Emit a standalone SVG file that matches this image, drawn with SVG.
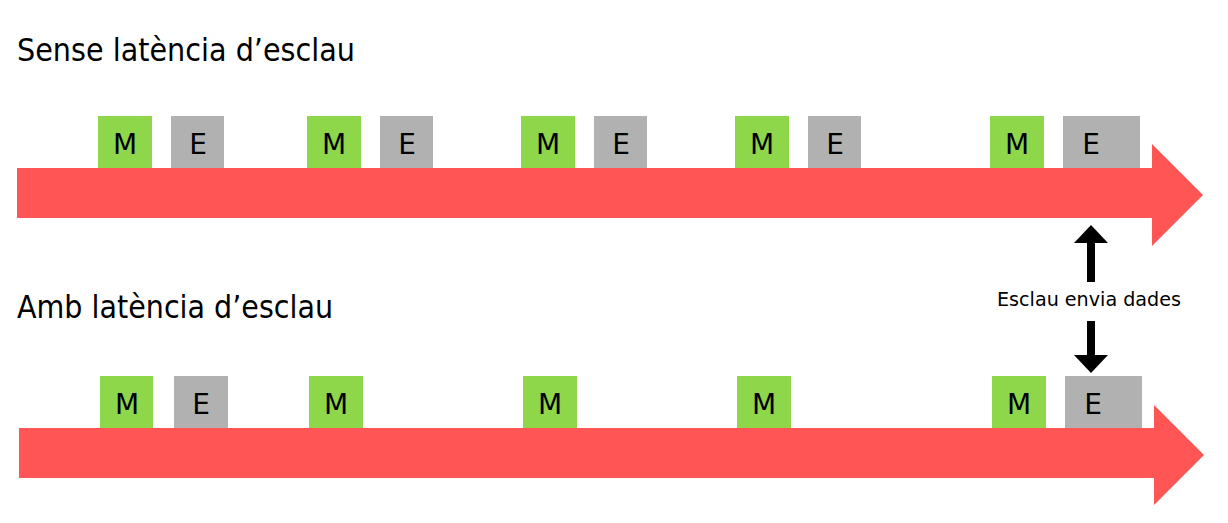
<svg xmlns="http://www.w3.org/2000/svg" width="1228" height="523" viewBox="0 0 1228 523">
<style>
.title{font-family:"DejaVu Sans",Verdana,sans-serif;font-size:32px;fill:#000}
.lbl{font-family:"DejaVu Sans",Verdana,sans-serif;font-size:28px;fill:#000;text-anchor:middle}
.note{font-family:"DejaVu Sans",Verdana,sans-serif;font-size:19px;fill:#000;text-anchor:middle}
.m{fill:#8ED64A}
.e{fill:#B1B1B1}
.tl{fill:#FF5555}
</style>
<rect width="1228" height="523" fill="#fff"/>
<text class="title" x="17" y="61" textLength="338" lengthAdjust="spacingAndGlyphs">Sense latència d’esclau</text>
<text class="title" x="17" y="318" textLength="316" lengthAdjust="spacingAndGlyphs">Amb latència d’esclau</text>
<g id="timeline1"><polygon class="tl" points="17,168 1152,168 1152,144 1203,195 1152,246 1152,218 17,218"/></g>
<g id="timeline2"><polygon class="tl" points="19,428 1154,428 1154,405 1204,455 1154,505 1154,478 19,478"/></g>
<g id="row1">
<g id="r1m1"><rect class="m" x="98" y="116" width="54" height="52"/><text class="lbl" x="125" y="154">M</text></g>
<g id="r1e1"><rect class="e" x="171" y="116" width="53" height="52"/><text class="lbl" x="198" y="154">E</text></g>
<g id="r1m2"><rect class="m" x="307" y="116" width="54" height="52"/><text class="lbl" x="334" y="154">M</text></g>
<g id="r1e2"><rect class="e" x="380" y="116" width="53" height="52"/><text class="lbl" x="407" y="154">E</text></g>
<g id="r1m3"><rect class="m" x="521" y="116" width="54" height="52"/><text class="lbl" x="548" y="154">M</text></g>
<g id="r1e3"><rect class="e" x="594" y="116" width="53" height="52"/><text class="lbl" x="621" y="154">E</text></g>
<g id="r1m4"><rect class="m" x="735" y="116" width="54" height="52"/><text class="lbl" x="762" y="154">M</text></g>
<g id="r1e4"><rect class="e" x="808" y="116" width="53" height="52"/><text class="lbl" x="835" y="154">E</text></g>
<g id="r1m5"><rect class="m" x="990" y="116" width="54" height="52"/><text class="lbl" x="1017" y="154">M</text></g>
<g id="r1e5"><rect class="e" x="1063" y="116" width="77" height="52"/><text class="lbl" x="1091" y="154">E</text></g>
</g>
<g id="row2">
<g id="r2m1"><rect class="m" x="100" y="376" width="53" height="52"/><text class="lbl" x="127" y="414">M</text></g>
<g id="r2e1"><rect class="e" x="174" y="376" width="54" height="52"/><text class="lbl" x="201" y="414">E</text></g>
<g id="r2m2"><rect class="m" x="309" y="376" width="54" height="52"/><text class="lbl" x="336" y="414">M</text></g>
<g id="r2m3"><rect class="m" x="523" y="376" width="54" height="52"/><text class="lbl" x="550" y="414">M</text></g>
<g id="r2m4"><rect class="m" x="737" y="376" width="54" height="52"/><text class="lbl" x="764" y="414">M</text></g>
<g id="r2m5"><rect class="m" x="992" y="376" width="54" height="52"/><text class="lbl" x="1019" y="414">M</text></g>
<g id="r2e5"><rect class="e" x="1065" y="376" width="77" height="52"/><text class="lbl" x="1093" y="414">E</text></g>
</g>
<g id="connectors" fill="#000">
<rect x="1087" y="242" width="8" height="40"/>
<polygon points="1074,243 1091,225 1108,243"/>
<rect x="1087" y="321" width="8" height="35"/>
<polygon points="1074,355 1091,373 1108,355"/>
</g>
<text class="note" x="1089" y="306" textLength="184" lengthAdjust="spacingAndGlyphs">Esclau envia dades</text>
</svg>
